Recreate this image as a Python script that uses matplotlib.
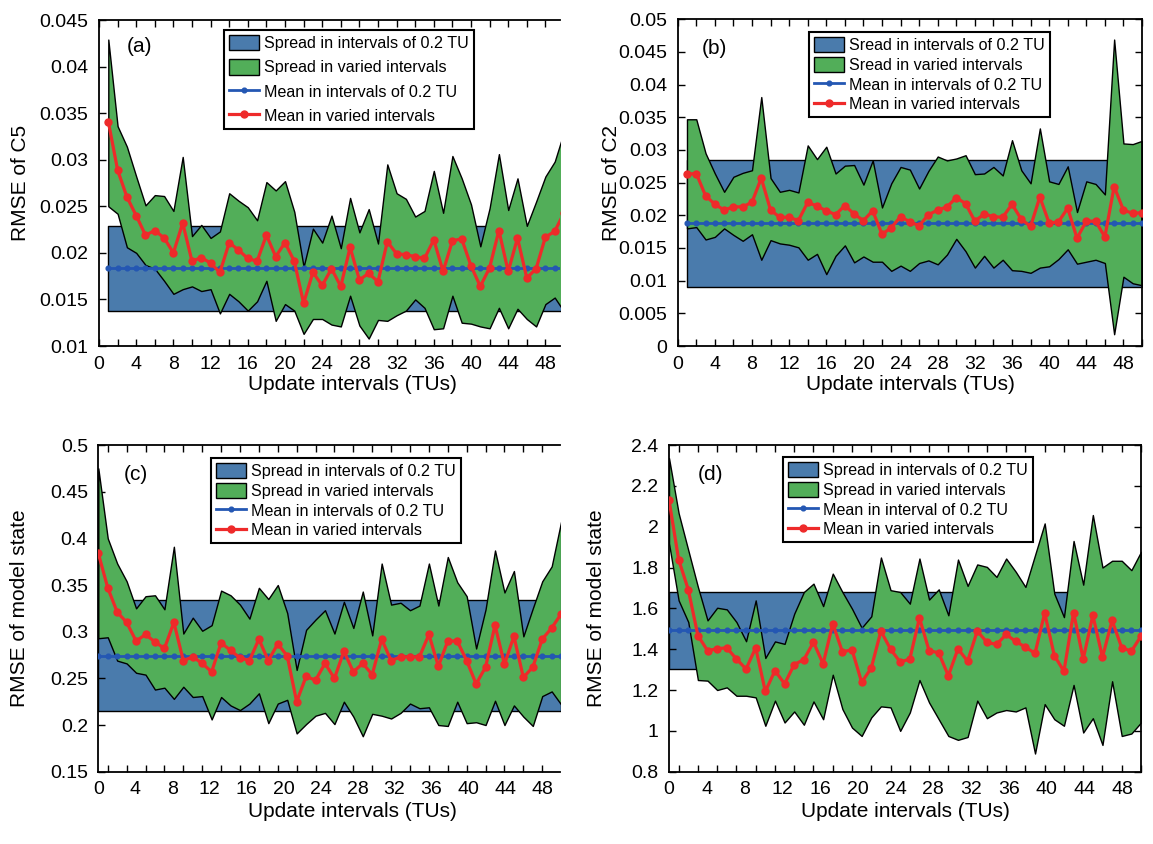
import numpy as np
import matplotlib
matplotlib.use("Agg")
import matplotlib.pyplot as plt
from matplotlib.patches import Patch
from matplotlib.lines import Line2D
from matplotlib.ticker import FuncFormatter, FixedLocator

plt.rcParams['font.family'] = ['Liberation Sans', 'DejaVu Sans']

# ---------------- data ----------------
intervals = list(range(1, 51))

# (a) RMSE of C5
a_hi = [0.0429, 0.0336, 0.0314, 0.0282, 0.0251, 0.0262, 0.0261, 0.0245, 0.0303, 0.0218,
        0.0230, 0.0216, 0.0223, 0.0264, 0.0256, 0.0249, 0.0235, 0.0276, 0.0267, 0.0277,
        0.0244, 0.0185, 0.0226, 0.0211, 0.0240, 0.0205, 0.0259, 0.0222, 0.0247, 0.0210,
        0.0295, 0.0264, 0.0258, 0.0239, 0.0245, 0.0288, 0.0243, 0.0304, 0.0280, 0.0252,
        0.0207, 0.0248, 0.0306, 0.0246, 0.0280, 0.0229, 0.0255, 0.0282, 0.0298, 0.0330]
a_mean = [0.0341, 0.0289, 0.0260, 0.0240, 0.0219, 0.0224, 0.0216, 0.0200, 0.0232, 0.0191,
          0.0195, 0.0189, 0.0179, 0.0211, 0.0203, 0.0194, 0.0191, 0.0219, 0.0196, 0.0211,
          0.0191, 0.0146, 0.0179, 0.0165, 0.0183, 0.0164, 0.0206, 0.0171, 0.0178, 0.0169,
          0.0212, 0.0199, 0.0198, 0.0196, 0.0194, 0.0214, 0.0180, 0.0213, 0.0215, 0.0186,
          0.0164, 0.0184, 0.0224, 0.0180, 0.0216, 0.0173, 0.0183, 0.0217, 0.0223, 0.0243]
a_lo = [0.0250, 0.0242, 0.0206, 0.0200, 0.0187, 0.0183, 0.0170, 0.0156, 0.0161, 0.0164,
        0.0159, 0.0161, 0.0135, 0.0156, 0.0148, 0.0138, 0.0148, 0.0170, 0.0127, 0.0145,
        0.0138, 0.0113, 0.0129, 0.0129, 0.0123, 0.0121, 0.0154, 0.0122, 0.0108, 0.0128,
        0.0127, 0.0133, 0.0138, 0.0150, 0.0141, 0.0118, 0.0119, 0.0154, 0.0125, 0.0124,
        0.0121, 0.0119, 0.0141, 0.0119, 0.0140, 0.0129, 0.0121, 0.0145, 0.0152, 0.0137]
a_fixed = [0.01375, 0.02293, 0.01836]   # spread low, spread high, mean (0.2 TU)

# (b) RMSE of C2
b_hi = [0.0347, 0.0347, 0.0295, 0.0264, 0.0236, 0.0259, 0.0265, 0.0269, 0.0381, 0.0257,
        0.0236, 0.0239, 0.0235, 0.0307, 0.0286, 0.0305, 0.0264, 0.0276, 0.0277, 0.0247,
        0.0284, 0.0212, 0.0249, 0.0274, 0.0270, 0.0241, 0.0268, 0.0290, 0.0284, 0.0287,
        0.0292, 0.0263, 0.0264, 0.0274, 0.0261, 0.0315, 0.0269, 0.0249, 0.0333, 0.0252,
        0.0248, 0.0275, 0.0205, 0.0252, 0.0248, 0.0232, 0.0469, 0.0310, 0.0309, 0.0314]
b_mean = [0.0263, 0.0264, 0.0230, 0.0217, 0.0208, 0.0213, 0.0213, 0.0220, 0.0257, 0.0208,
          0.0197, 0.0197, 0.0192, 0.0220, 0.0214, 0.0207, 0.0201, 0.0215, 0.0202, 0.0192,
          0.0207, 0.0171, 0.0181, 0.0198, 0.0190, 0.0184, 0.0201, 0.0208, 0.0213, 0.0227,
          0.0218, 0.0191, 0.0202, 0.0198, 0.0197, 0.0217, 0.0194, 0.0183, 0.0228, 0.0188,
          0.0190, 0.0211, 0.0165, 0.0191, 0.0191, 0.0167, 0.0244, 0.0208, 0.0203, 0.0204]
b_lo = [0.0180, 0.0182, 0.0163, 0.0167, 0.0180, 0.0170, 0.0161, 0.0171, 0.0132, 0.0162,
        0.0157, 0.0155, 0.0151, 0.0132, 0.0141, 0.0110, 0.0138, 0.0154, 0.0128, 0.0137,
        0.0129, 0.0129, 0.0115, 0.0123, 0.0115, 0.0127, 0.0131, 0.0125, 0.0140, 0.0164,
        0.0145, 0.0120, 0.0138, 0.0120, 0.0132, 0.0116, 0.0115, 0.0112, 0.0120, 0.0122,
        0.0133, 0.0148, 0.0126, 0.0129, 0.0132, 0.0127, 0.0018, 0.0106, 0.0096, 0.0093]
b_fixed = [0.00908, 0.02847, 0.01888]

# (c) RMSE of model state
c_hi = [0.475, 0.400, 0.373, 0.354, 0.325, 0.338, 0.339, 0.324, 0.391, 0.298,
        0.315, 0.301, 0.307, 0.344, 0.339, 0.329, 0.314, 0.347, 0.335, 0.350,
        0.320, 0.259, 0.302, 0.313, 0.323, 0.298, 0.332, 0.304, 0.343, 0.296,
        0.373, 0.329, 0.331, 0.323, 0.328, 0.373, 0.328, 0.380, 0.353, 0.338,
        0.282, 0.324, 0.387, 0.342, 0.365, 0.295, 0.325, 0.354, 0.370, 0.418]
c_mean = [0.384, 0.347, 0.321, 0.310, 0.290, 0.297, 0.289, 0.282, 0.310, 0.269,
          0.273, 0.266, 0.257, 0.288, 0.280, 0.272, 0.269, 0.292, 0.269, 0.287,
          0.274, 0.225, 0.252, 0.248, 0.266, 0.250, 0.279, 0.257, 0.266, 0.254,
          0.292, 0.269, 0.273, 0.273, 0.273, 0.297, 0.263, 0.290, 0.290, 0.269,
          0.244, 0.262, 0.307, 0.265, 0.295, 0.251, 0.262, 0.292, 0.304, 0.319]
c_lo = [0.293, 0.294, 0.269, 0.266, 0.256, 0.254, 0.238, 0.240, 0.228, 0.241,
        0.230, 0.231, 0.206, 0.230, 0.221, 0.216, 0.223, 0.234, 0.202, 0.223,
        0.227, 0.191, 0.201, 0.210, 0.213, 0.201, 0.225, 0.209, 0.188, 0.212,
        0.210, 0.207, 0.213, 0.223, 0.218, 0.219, 0.200, 0.199, 0.225, 0.202,
        0.203, 0.200, 0.226, 0.200, 0.221, 0.209, 0.199, 0.231, 0.236, 0.222]
c_fixed = [0.2152, 0.334, 0.2744]

# (d) RMSE of model state
d_hi = [2.336, 2.066, 1.885, 1.705, 1.541, 1.603, 1.595, 1.533, 1.439, 1.639,
        1.357, 1.438, 1.426, 1.574, 1.680, 1.721, 1.611, 1.770, 1.680, 1.598,
        1.505, 1.561, 1.849, 1.689, 1.680, 1.623, 1.844, 1.643, 1.693, 1.566,
        1.839, 1.710, 1.815, 1.803, 1.754, 1.844, 1.779, 1.705, 1.861, 2.016,
        1.672, 1.557, 1.930, 1.716, 2.057, 1.800, 1.833, 1.833, 1.787, 1.877]
d_mean = [2.131, 1.839, 1.692, 1.467, 1.393, 1.402, 1.407, 1.352, 1.303, 1.407,
          1.193, 1.295, 1.230, 1.325, 1.349, 1.434, 1.328, 1.525, 1.387, 1.397,
          1.238, 1.308, 1.489, 1.400, 1.337, 1.352, 1.553, 1.393, 1.382, 1.270,
          1.402, 1.341, 1.489, 1.434, 1.423, 1.472, 1.438, 1.410, 1.380, 1.577,
          1.369, 1.292, 1.579, 1.352, 1.566, 1.361, 1.541, 1.407, 1.390, 1.464]
d_lo = [1.918, 1.639, 1.533, 1.249, 1.246, 1.200, 1.213, 1.172, 1.172, 1.164,
        1.025, 1.148, 1.041, 1.095, 1.030, 1.144, 1.057, 1.275, 1.107, 1.016,
        0.975, 1.066, 1.120, 1.115, 1.000, 1.090, 1.249, 1.139, 1.057, 0.975,
        0.956, 0.970, 1.148, 1.062, 1.090, 1.102, 1.095, 1.115, 0.889, 1.131,
        1.057, 1.025, 1.225, 0.992, 1.062, 0.931, 1.243, 0.975, 0.987, 1.041]
d_fixed = [1.303, 1.680, 1.492]

xtick_labels = [0, 4, 8, 12, 16, 20, 24, 28, 32, 36, 40, 44, 48]

legend_std = ["Spread in intervals of 0.2 TU", "Spread in varied intervals",
              "Mean in intervals of 0.2 TU", "Mean in varied intervals"]
legend_b = ["Sread in intervals of 0.2 TU", "Sread in varied intervals",
            "Mean in intervals of 0.2 TU", "Mean in varied intervals"]
legend_d = ["Spread in intervals of 0.2 TU", "Spread in varied intervals",
            "Mean in interval of 0.2 TU", "Mean in varied intervals"]

# ---------------- style ----------------
BLUE_FILL = '#4a7bac'
GREEN = '#52ae59'
BLUE_LINE = '#2457b3'
RED = '#ee2a2a'

W, H = 1153, 844
fig = plt.figure(figsize=(W / 100, H / 100), dpi=100)


def px_axes(l, t, r, b):
    return fig.add_axes([l / W, 1 - b / H, (r - l) / W, (b - t) / H])


def draw_panel(box, xlim, ylim, yticks, lo, mean, hi, fixed, ylabel, letter,
               legend_labels, legend_box, ylab_x, xlab_xy, letter_xy, cropped,
               shifted_labels, lspacing):
    l, t, r, b = box
    ax = px_axes(l, t, r, b)
    x = np.array(intervals)
    ones = np.ones(len(x))
    ax.fill_between(x, fixed[0] * ones, fixed[1] * ones, facecolor=BLUE_FILL,
                    edgecolor='black', linewidth=1.0, zorder=1)
    ax.fill_between(x, lo, hi, facecolor=GREEN, edgecolor='black',
                    linewidth=1.0, zorder=2)
    ax.plot(x, fixed[2] * ones, color=BLUE_LINE, lw=2.0, marker='o', ms=3.4,
            zorder=3)
    ax.plot(x, mean, color=RED, lw=2.3, marker='o', ms=5.0, zorder=4)

    ax.set_xlim(*xlim)
    ax.set_ylim(*ylim)
    ax.yaxis.set_major_locator(FixedLocator(yticks))
    ax.yaxis.set_major_formatter(FuncFormatter(lambda v, p: '%g' % round(v, 4)))

    if shifted_labels:
        pos = [1 + k * 0.98 for k in xtick_labels]
        ax.set_xticks(pos)
        ax.set_xticklabels([str(k) for k in xtick_labels])
        ax.xaxis.set_minor_locator(FixedLocator(list(range(2, 51, 2))))
        ax.tick_params(axis='x', which='major', length=0)
    else:
        ax.set_xticks(xtick_labels)
        ax.set_xticklabels([str(k) for k in xtick_labels])
        ax.xaxis.set_minor_locator(FixedLocator(list(range(2, 51, 2))))
        ax.tick_params(axis='x', which='major', length=5)

    ax.tick_params(axis='both', which='both', direction='in', top=True,
                   right=not cropped, width=1.0, labelsize=14)
    ax.tick_params(axis='x', which='minor', length=5)
    ax.tick_params(axis='y', which='major', length=5, pad=7.5)
    ax.tick_params(axis='x', which='major', pad=7)
    for s in ax.spines.values():
        s.set_linewidth(1.3)
    if cropped:
        ax.spines['right'].set_visible(False)

    width = r - l
    height = b - t
    ax.set_ylabel(ylabel, fontsize=15)
    ax.yaxis.set_label_coords((ylab_x - l) / width, 0.5)
    ax.set_xlabel("Update intervals (TUs)", fontsize=15)
    ax.xaxis.set_label_coords((xlab_xy[0] - l) / width, 1 - (xlab_xy[1] - t) / height)

    ax.text((letter_xy[0] - l) / width, 1 - (letter_xy[1] - t) / height, letter,
            transform=ax.transAxes, fontsize=15, ha='center', va='center')

    handles = [Patch(facecolor=BLUE_FILL, edgecolor='black', linewidth=1.0),
               Patch(facecolor=GREEN, edgecolor='black', linewidth=1.0),
               Line2D([], [], color=BLUE_LINE, lw=2.0, marker='o', ms=3.4),
               Line2D([], [], color=RED, lw=2.3, marker='o', ms=5.0)]
    leg = ax.legend(handles, legend_labels, loc='upper left',
                    bbox_to_anchor=(legend_box[0] / W, 1 - legend_box[1] / H),
                    bbox_transform=fig.transFigure, borderaxespad=0,
                    fontsize=11.6, handlelength=1.9, handleheight=1.1,
                    handletextpad=0.3, labelspacing=lspacing, borderpad=0.3,
                    numpoints=1, fancybox=False, framealpha=1,
                    edgecolor='black')
    leg.get_frame().set_linewidth(1.5)
    leg.set_zorder(10)
    return ax


draw_panel((99, 20, 560, 346), (0, 49.57), (0.01, 0.045),
           [0.01, 0.015, 0.02, 0.025, 0.03, 0.035, 0.04, 0.045],
           a_lo, a_mean, a_hi, a_fixed, "RMSE of C5", "(a)", legend_std,
           (224, 30), 30, (352, 375), (139.5, 46), True, False, 0.5)

draw_panel((677.7, 19.3, 1142, 346), (0, 50), (0, 0.05),
           [0, 0.005, 0.01, 0.015, 0.02, 0.025, 0.03, 0.035, 0.04, 0.045, 0.05],
           b_lo, b_mean, b_hi, b_fixed, "RMSE of C2", "(b)", legend_b,
           (809, 32), 621, (910, 375), (714, 49), False, False, 0.22)

draw_panel((98.3, 445, 560, 771.7), (1, 50.0 - 0.12), (0.15, 0.5),
           [0.15, 0.2, 0.25, 0.3, 0.35, 0.4, 0.45, 0.5],
           c_lo, c_mean, c_hi, c_fixed, "RMSE of model state", "(c)", legend_std,
           (211, 458), 29, (352, 802), (135.5, 474), True, True, 0.22)

draw_panel((669, 445, 1141, 771.7), (1, 50), (0.8, 2.4),
           [0.8, 1.0, 1.2, 1.4, 1.6, 1.8, 2.0, 2.2, 2.4],
           d_lo, d_mean, d_hi, d_fixed, "RMSE of model state", "(d)", legend_d,
           (783, 457), 606, (905, 802), (710.5, 474.5), False, True, 0.22)

fig.savefig("out.png", dpi=100)
